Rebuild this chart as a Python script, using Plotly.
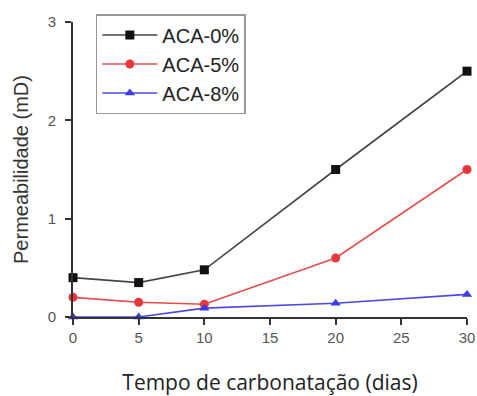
import plotly.graph_objects as go

days = [0, 5, 10, 20, 30]
aca0 = [0.40, 0.35, 0.48, 1.50, 2.50]
aca5 = [0.20, 0.15, 0.13, 0.60, 1.50]
aca8 = [0.00, 0.00, 0.09, 0.14, 0.23]
names = ["ACA-0%", "ACA-5%", "ACA-8%"]
colors = ["#111111", "#e8373a", "#3a3ae8"]
line_colors = ["#444444", "#e84a4a", "#4a4ae8"]
symbols = ["square", "circle", "triangle-up"]

fig = go.Figure()
for vals, nm, c, lc, s in zip([aca0, aca5, aca8], names, colors, line_colors, symbols):
    fig.add_trace(go.Scatter(
        x=days, y=vals, name=nm, mode="lines+markers",
        line=dict(color=lc, width=1.6),
        marker=dict(symbol=s, color=c, size=9),
        cliponaxis=False,
    ))

axis_common = dict(
    showline=True, linecolor="#333333", linewidth=2,
    ticks="outside", ticklen=6, tickwidth=2, tickcolor="#333333",
    showgrid=False, zeroline=False, automargin=False,
    tickfont=dict(family="Liberation Sans, Arial", size=15, color="#555555"),
)

fig.update_layout(
    width=477, height=396,
    margin=dict(l=73, r=10, t=22, b=79),
    paper_bgcolor="white", plot_bgcolor="white",
    xaxis=dict(range=[0, 30], tickvals=[0, 5, 10, 15, 20, 25, 30],
               title=dict(text="Tempo de carbonatação (dias)",
                          font=dict(family="Open Sans", size=21, color="#222222"),
                          standoff=30),
               **axis_common),
    yaxis=dict(range=[0, 3], tickvals=[0, 1, 2, 3], ticklabelstandoff=6,
               title=dict(text="Permeabilidade (mD)",
                          font=dict(family="Liberation Sans, Arial", size=20, color="#333333"),
                          standoff=14),
               **axis_common),
    legend=dict(x=0.058, y=1.027, xanchor="left", yanchor="top",
                bordercolor="#999999", borderwidth=1.5,
                font=dict(family="Liberation Sans, Arial", size=20, color="#222222"),
                itemwidth=55, tracegroupgap=0, bgcolor="white"),
    showlegend=True,
)

fig.write_html("out.html")
